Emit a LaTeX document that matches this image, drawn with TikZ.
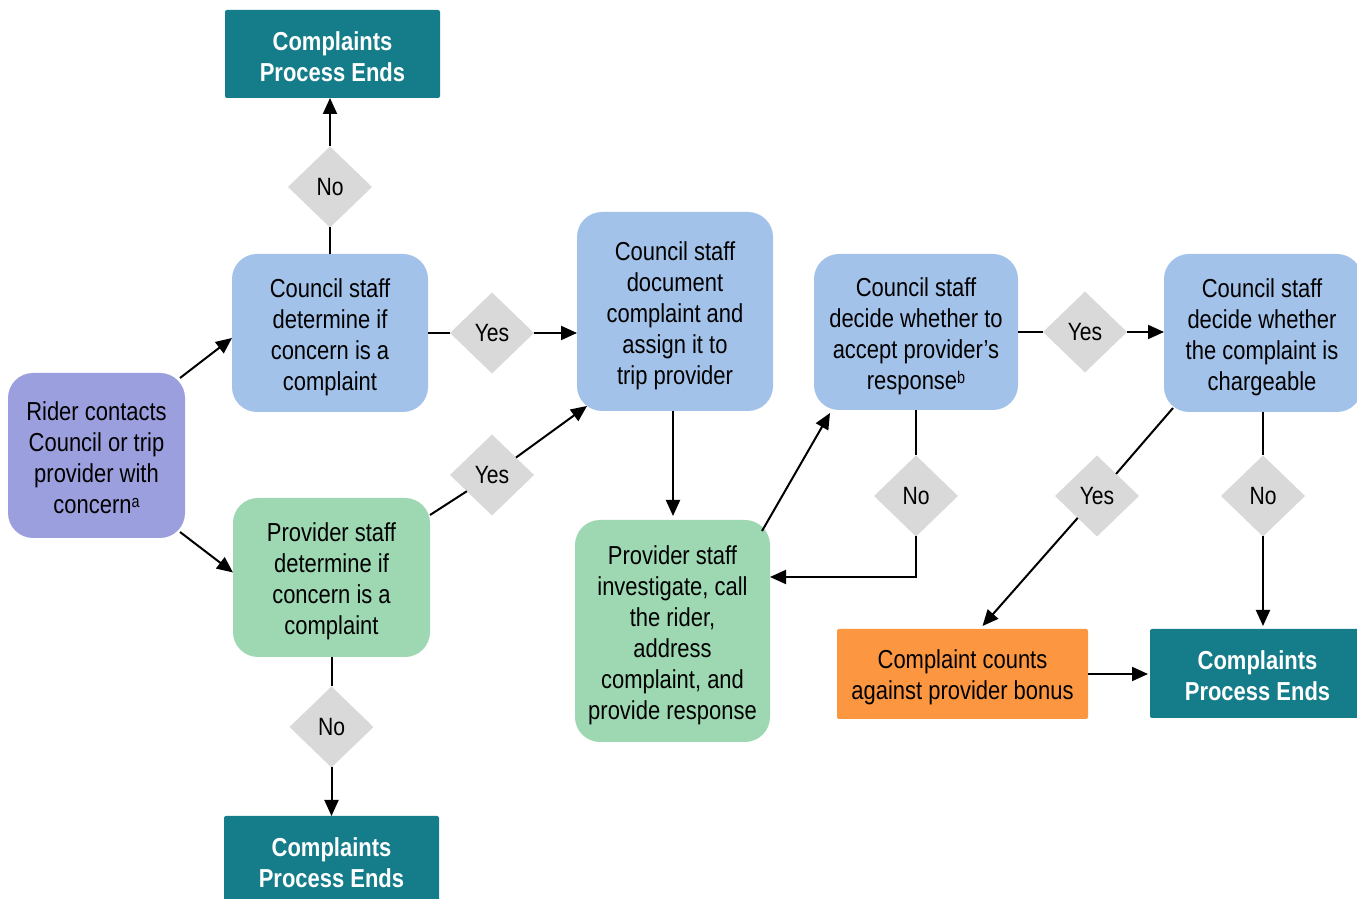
\documentclass[tikz,border=0pt]{standalone}
\usepackage{fontspec}
\setmainfont{Liberation Sans}[FakeStretch=0.845]
\usetikzlibrary{shapes.geometric,arrows.meta,calc}
\definecolor{teal1}{HTML}{157D8A}
\definecolor{blue1}{HTML}{A3C2EA}
\definecolor{green1}{HTML}{9DD8B2}
\definecolor{purple1}{HTML}{9C9FDE}
\definecolor{orange1}{HTML}{FD9641}
\definecolor{gray1}{HTML}{D9D9D9}
\begin{document}
\begin{tikzpicture}[x=1pt,y=1pt,
  every node/.style={font=\fontsize{26}{31}\selectfont, align=center, inner sep=0pt, outer sep=0pt},
  rbox/.style={rounded corners=25pt, fill=#1},
  endbox/.style={rounded corners=2pt, fill=teal1, minimum width=215pt, minimum height=88pt},
  endtxt/.style={text=white, font=\fontsize{26}{31}\selectfont\bfseries, yshift=-2.5pt},
  tx/.style={yshift=-4pt},
  dec/.style={diamond, fill=gray1, minimum width=84pt, minimum height=81pt, font=\fontsize{25}{28}\selectfont},
  ln/.style={line width=2pt},
  arr/.style={line width=2pt, -{Triangle[length=16pt,width=14pt]}}]
\useasboundingbox (0,0) rectangle (1357,899);
\clip (0,0) rectangle (1357,899);
% boxes
\node[endbox] (endtop) at (332.5,845) {};
\node[endtxt] (endtop-t) at (endtop) {Complaints\\Process Ends};
\node[endbox] (endbot) at (331.5,39) {};
\node[endtxt] (endbot-t) at (endbot) {Complaints\\Process Ends};
\node[endbox, minimum height=89pt] (endright) at (1257.5,225.5) {};
\node[endtxt] (endright-t) at (endright) {Complaints\\Process Ends};
\node[rounded corners=2pt, fill=orange1, minimum width=251pt, minimum height=90pt] (orange) at (962.5,225) {};
\node[yshift=-3pt] (orange-t) at (orange) {Complaint counts\\against provider bonus};
\node[rbox=purple1, minimum width=177pt, minimum height=165pt] (rider) at (96.5,443.5) {};
\node[yshift=-2pt] (rider-t) at (rider) {Rider contacts\\Council or trip\\provider with\\concern{\fontsize{17}{20}\selectfont\raisebox{6pt}{a}}};
\node[rbox=blue1, minimum width=196pt, minimum height=158pt] (cdet) at (330,566) {};
\node[tx] (cdet-t) at (cdet) {Council staff\\determine if\\concern is a\\complaint};
\node[rbox=green1, minimum width=197pt, minimum height=159pt] (pdet) at (331.5,321.5) {};
\node[tx] (pdet-t) at (pdet) {Provider staff\\determine if\\concern is a\\complaint};
\node[rbox=blue1, minimum width=196pt, minimum height=199pt] (cdoc) at (675,587.5) {};
\node[tx] (cdoc-t) at (cdoc) {Council staff\\document\\complaint and\\assign it to\\trip provider};
\node[rbox=green1, minimum width=195pt, minimum height=222pt] (pinv) at (672.5,268) {};
\node[tx] (pinv-t) at (pinv) {Provider staff\\investigate, call\\the rider,\\address\\complaint, and\\provide response};
\node[rbox=blue1, minimum width=204pt, minimum height=156pt] (cacc) at (916,567) {};
\node[tx] (cacc-t) at (cacc) {Council staff\\decide whether to\\accept provider’s\\response{\fontsize{17}{20}\selectfont\raisebox{6pt}{b}}};
\node[rbox=blue1, minimum width=198pt, minimum height=158pt] (cchg) at (1263,566) {};
\node[tx] (cchg-t) at (1262,566) {Council staff\\decide whether\\the complaint is\\chargeable};
% diamonds
\node[dec] (dno1) at (330,712) {No};
\node[dec] (dyes1) at (492,566) {Yes};
\node[dec] (dyes2) at (492,424) {Yes};
\node[dec] (dno2) at (331.5,172) {No};
\node[dec] (dyes3) at (1085,567) {Yes};
\node[dec] (dno3) at (916,403) {No};
\node[dec] (dyes4) at (1097,403) {Yes};
\node[dec] (dno4) at (1263,403) {No};
% connectors
\draw[arr] ($(rider.north east)+(-5,-5)$) -- ($(cdet.west)+(0,-5)$);
\draw[arr] ($(rider.south east)+(-5,6)$) -- ($(pdet.west)+(0,5)$);
\draw[ln] (cdet.north) -- (dno1.south);
\draw[arr] (dno1.north) -- (dno1.north |- endtop.south);
\draw[ln] (cdet.east) -- (dyes1.west);
\draw[arr] (dyes1.east) -- (dyes1.east -| cdoc.west);
\draw[ln] ($(pdet.north east)+(0,-17)$) -- (dyes2);
\draw[arr] (dyes2) -- ($(cdoc.south west)+(10,5)$);
\draw[ln] (pdet.south) -- (dno2.north);
\draw[arr] (dno2.south) -- (dno2.south |- endbot.north);
\draw[arr] ($(cdoc.south)+(-2,0)$) -- ($(cdoc.south |- pinv.north)+(-2,4)$);
\draw[arr] ($(pinv.north east)+(-8,-11)$) -- ($(cacc.south west)+(16,-3)$);
\draw[ln] (cacc.east) -- (dyes3.west);
\draw[arr] (dyes3.east) -- (dyes3.east -| cchg.west);
\draw[ln] (cacc.south) -- (dno3.north);
\draw[arr] (dno3.south) |- ($(pinv.east)+(0,54)$);
\draw[ln] ($(cchg.south west)+(9,4)$) -- (dyes4);
\draw[arr] (dyes4) -- ($(orange.north)+(20,3)$);
\draw[ln] (cchg.south) -- (dno4.north);
\draw[arr] (dno4.south) -- ($(dno4.south |- endright.north)+(0,3)$);
\draw[arr] (orange.east) -- ($(orange.east -| endright.west)+(-2,0)$);
\end{tikzpicture}
\end{document}
